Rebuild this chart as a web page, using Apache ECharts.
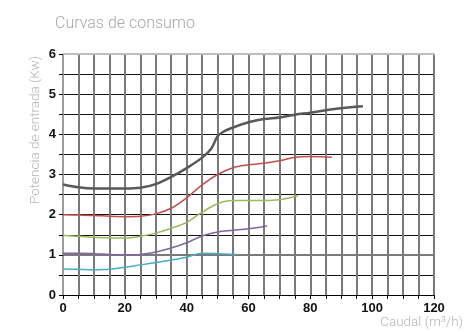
<!DOCTYPE html>
<html><head><meta charset="utf-8">
<script src="https://cdn.jsdelivr.net/npm/echarts@6/dist/echarts.min.js"></script>
<style>html,body{margin:0;padding:0;background:#fff}#c{width:466px;height:332px}</style>
</head><body><div id="c"></div>
<script>
var title = 'Curvas de consumo';
var yName = 'Potencia de entrada (Kw)';
var xName = 'Caudal (m³/h)';

var flowGray  = [0, 5, 10, 15, 20, 25, 30, 35, 40, 45, 48, 50, 52, 55, 60, 65, 70, 75, 80, 85, 90, 97];
var powerGray = [2.75, 2.68, 2.65, 2.65, 2.65, 2.67, 2.76, 2.94, 3.16, 3.42, 3.65, 3.95, 4.07, 4.17, 4.3, 4.38, 4.42, 4.49, 4.54, 4.6, 4.65, 4.7];

var flowRed  = [0, 5, 10, 15, 20, 25, 30, 35, 40, 45, 50, 55, 60, 65, 70, 75, 80, 87];
var powerRed = [2.0, 1.99, 1.98, 1.96, 1.95, 1.96, 2.02, 2.16, 2.42, 2.74, 3.0, 3.17, 3.24, 3.28, 3.34, 3.43, 3.45, 3.43];

var flowGreen  = [0, 5, 10, 15, 20, 25, 30, 35, 40, 45, 50, 55, 60, 65, 70, 76];
var powerGreen = [1.49, 1.46, 1.44, 1.42, 1.42, 1.46, 1.54, 1.66, 1.81, 2.06, 2.27, 2.35, 2.35, 2.35, 2.37, 2.47];

var flowPurple  = [0, 5, 10, 15, 20, 25, 30, 35, 40, 45, 50, 55, 60, 66];
var powerPurple = [1.04, 1.04, 1.03, 1.01, 1.0, 1.01, 1.07, 1.17, 1.3, 1.47, 1.57, 1.61, 1.65, 1.72];

var flowCyan  = [0, 5, 10, 15, 20, 25, 30, 35, 40, 45, 50, 56];
var powerCyan = [0.65, 0.64, 0.63, 0.64, 0.69, 0.75, 0.81, 0.87, 0.94, 1.04, 1.03, 1.01];

var xTickLabels = [0, 20, 40, 60, 80, 100, 120];
var yTickLabels = [0, 1, 2, 3, 4, 5, 6];
var refLineY = 1;

function pairs(xs, ys) { return xs.map(function (x, i) { return [x, ys[i]]; }); }

var chart = echarts.init(document.getElementById('c'), null, {renderer: 'canvas'});
function mkSeries(xs, ys, color, width) {
  return {
    type: 'line', data: pairs(xs, ys), smooth: 0.35, symbol: 'none',
    lineStyle: {color: color, width: width}, z: 5
  };
}
var series = [
  mkSeries(flowGray, powerGray, '#595959', 2.5),
  mkSeries(flowRed, powerRed, '#c0504d', 1.5),
  mkSeries(flowGreen, powerGreen, '#9bbb59', 1.5),
  mkSeries(flowPurple, powerPurple, '#8064a2', 1.5),
  mkSeries(flowCyan, powerCyan, '#4bacc6', 1.5)
];
series.push({
  type: 'line', data: [], symbol: 'none', z: 3,
  markLine: {silent: true, symbol: 'none', label: {show: false},
    lineStyle: {color: '#7a7a7a', width: 2, type: 'solid'},
    data: [{yAxis: refLineY}]}
});
chart.setOption({
  animation: false,
  title: {
    text: title, left: 50, top: 11,
    textStyle: {fontFamily: 'Roboto', fontWeight: 300, fontSize: 16, color: '#a8a8a8'}
  },
  grid: {left: 63, right: 32, top: 54, bottom: 37, containLabel: false},
  xAxis: {
    type: 'value', min: 0, max: 120, interval: 5,
    axisLine: {show: true, lineStyle: {color: '#000', width: 1}},
    axisTick: {show: true, length: 4, lineStyle: {color: '#000'},
      interval: function (i, v) { return xTickLabels.indexOf(+v) >= 0; }},
    axisLabel: {
      margin: 7, color: '#111', fontFamily: 'Liberation Sans', fontWeight: 'bold', fontSize: 13,
      formatter: function (v) { return xTickLabels.indexOf(v) >= 0 ? String(v) : ''; }
    },
    splitLine: {show: true, lineStyle: {color: '#7a7a7a', width: 2}}
  },
  yAxis: {
    type: 'value', min: 0, max: 6, interval: 0.5,
    axisLine: {show: true, lineStyle: {color: '#aaa', width: 1.5}},
    axisTick: {show: true, length: 4, lineStyle: {color: '#000'}},
    axisLabel: {
      margin: 7, color: '#111', fontFamily: 'Liberation Sans', fontWeight: 'bold', fontSize: 13,
      formatter: function (v) { return yTickLabels.indexOf(v) >= 0 ? String(v) : ''; }
    },
    splitLine: {show: true, lineStyle: {color: '#111', width: 1}}
  },
  graphic: [
    {type: 'rect', shape: {x: 63, y: 53, width: 372, height: 2}, style: {fill: '#bdbdbd'}, z: 10},
    {type: 'text', x: 36, y: 130, rotation: Math.PI / 2,
      style: {text: yName, textAlign: 'center', textVerticalAlign: 'middle',
        fontFamily: 'Roboto', fontWeight: 300, fontSize: 13.5, fill: '#b5b5b5'}},
    {type: 'text', x: 463, y: 323,
      style: {text: xName, textAlign: 'right', textVerticalAlign: 'middle',
        fontFamily: 'Roboto', fontWeight: 300, fontSize: 13.5, fill: '#b5b5b5'}}
  ],
  series: series
});
</script></body></html>
